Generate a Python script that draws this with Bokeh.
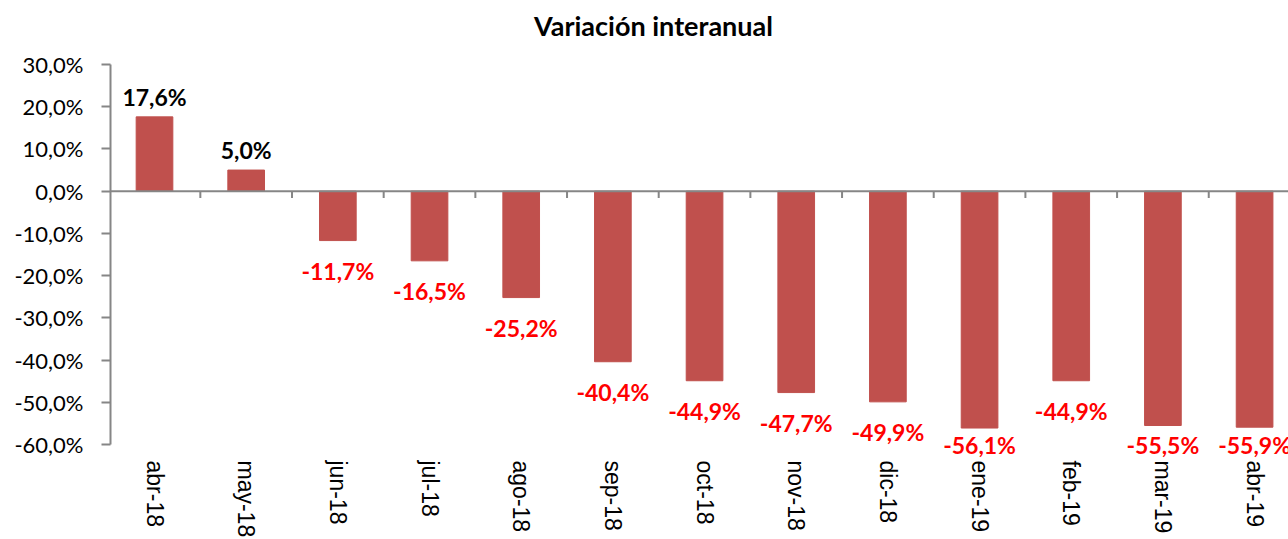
import math
from bokeh.plotting import figure
from bokeh.models import Range1d, FixedTicker, LabelSet, ColumnDataSource, Span, Label
from bokeh.core.properties import value
from bokeh.embed import file_html
from bokeh.resources import INLINE

categories = ["abr-18", "may-18", "jun-18", "jul-18", "ago-18", "sep-18", "oct-18",
              "nov-18", "dic-18", "ene-19", "feb-19", "mar-19", "abr-19"]
values = [17.6, 5.0, -11.7, -16.5, -25.2, -40.4, -44.9, -47.7, -49.9, -56.1, -44.9, -55.5, -55.9]
y_ticks = [-60, -50, -40, -30, -20, -10, 0, 10, 20, 30]
title = "Variación interanual"

n = len(categories)
xs = [i + 0.5 for i in range(n)]
y_min, y_max = y_ticks[0], y_ticks[-1]


def pct(v):
    return f"{v:.1f}%".replace(".", ",")


label_y = [v + 4.7 if v >= 0 else max(v - 7.2, y_min) for v in values]
label_col = ["#000000" if v >= 0 else "#FF0000" for v in values]
src = ColumnDataSource(dict(x=xs, top=values, ly=label_y, cat=categories,
                            base=[y_min] * n,
                            label=[pct(v) for v in values], color=label_col))

W, H = 1288, 539
LEFT = 110
p = figure(width=W, height=H, x_range=Range1d(0.02, 12.87), y_range=Range1d(-82.5, 45.16),
           output_backend="svg", toolbar_location=None,
           min_border_left=LEFT, min_border_right=0, min_border_top=0, min_border_bottom=0)
p.background_fill_color = "white"
p.border_fill_color = "white"
p.outline_line_color = None
p.xgrid.visible = False
p.ygrid.visible = False
p.xaxis.visible = False

# chart title, centred on the whole chart area
p.add_layout(Label(x=653 - LEFT, y=H - 25, x_units="screen", y_units="screen", text=title,
                   text_align="center", text_baseline="middle", text_font="Lato",
                   text_font_size="27px", text_font_style="bold", text_color="#000000"))

p.vbar(x="x", top="top", bottom=0, width=0.4, source=src,
       fill_color="#C0504D", line_color="#C0504D")

p.add_layout(Span(location=0, dimension="width", line_color="#868686", line_width=2))
bounds = list(range(1, n + 1))
p.segment(x0=bounds, y0=[0] * n, x1=bounds, y1=[-1.6] * n, line_color="#868686", line_width=2)

p.add_layout(LabelSet(x="x", y="ly", text="label", source=src, text_align="center",
                      text_baseline="middle", text_color="color", text_font=value("Lato"),
                      text_font_style=value("bold"), text_font_size=value("23px")))

# category labels under the -60% line, rotated to read top-to-bottom
p.text(x="x", y="base", text="cat", source=src, angle=-math.pi / 2,
       text_align="left", text_baseline="middle", y_offset=16,
       text_font=value("Liberation Sans"), text_font_size=value("23px"), text_color="#000000")

ya = p.yaxis[0]
ya.bounds = (y_min, y_max)
ya.ticker = FixedTicker(ticks=y_ticks)
ya.major_label_overrides = {t: pct(t) for t in y_ticks}
ya.axis_line_color = "#868686"
ya.axis_line_width = 2
ya.major_tick_line_color = "#868686"
ya.major_tick_line_width = 2
ya.major_tick_out = 9
ya.major_tick_in = 0
ya.minor_tick_line_color = None
ya.major_label_standoff = 18
ya.major_label_text_font = "Lato"
ya.major_label_text_font_size = "22px"
ya.major_label_text_color = "#000000"

open("out.html", "w").write(file_html(p, INLINE))
